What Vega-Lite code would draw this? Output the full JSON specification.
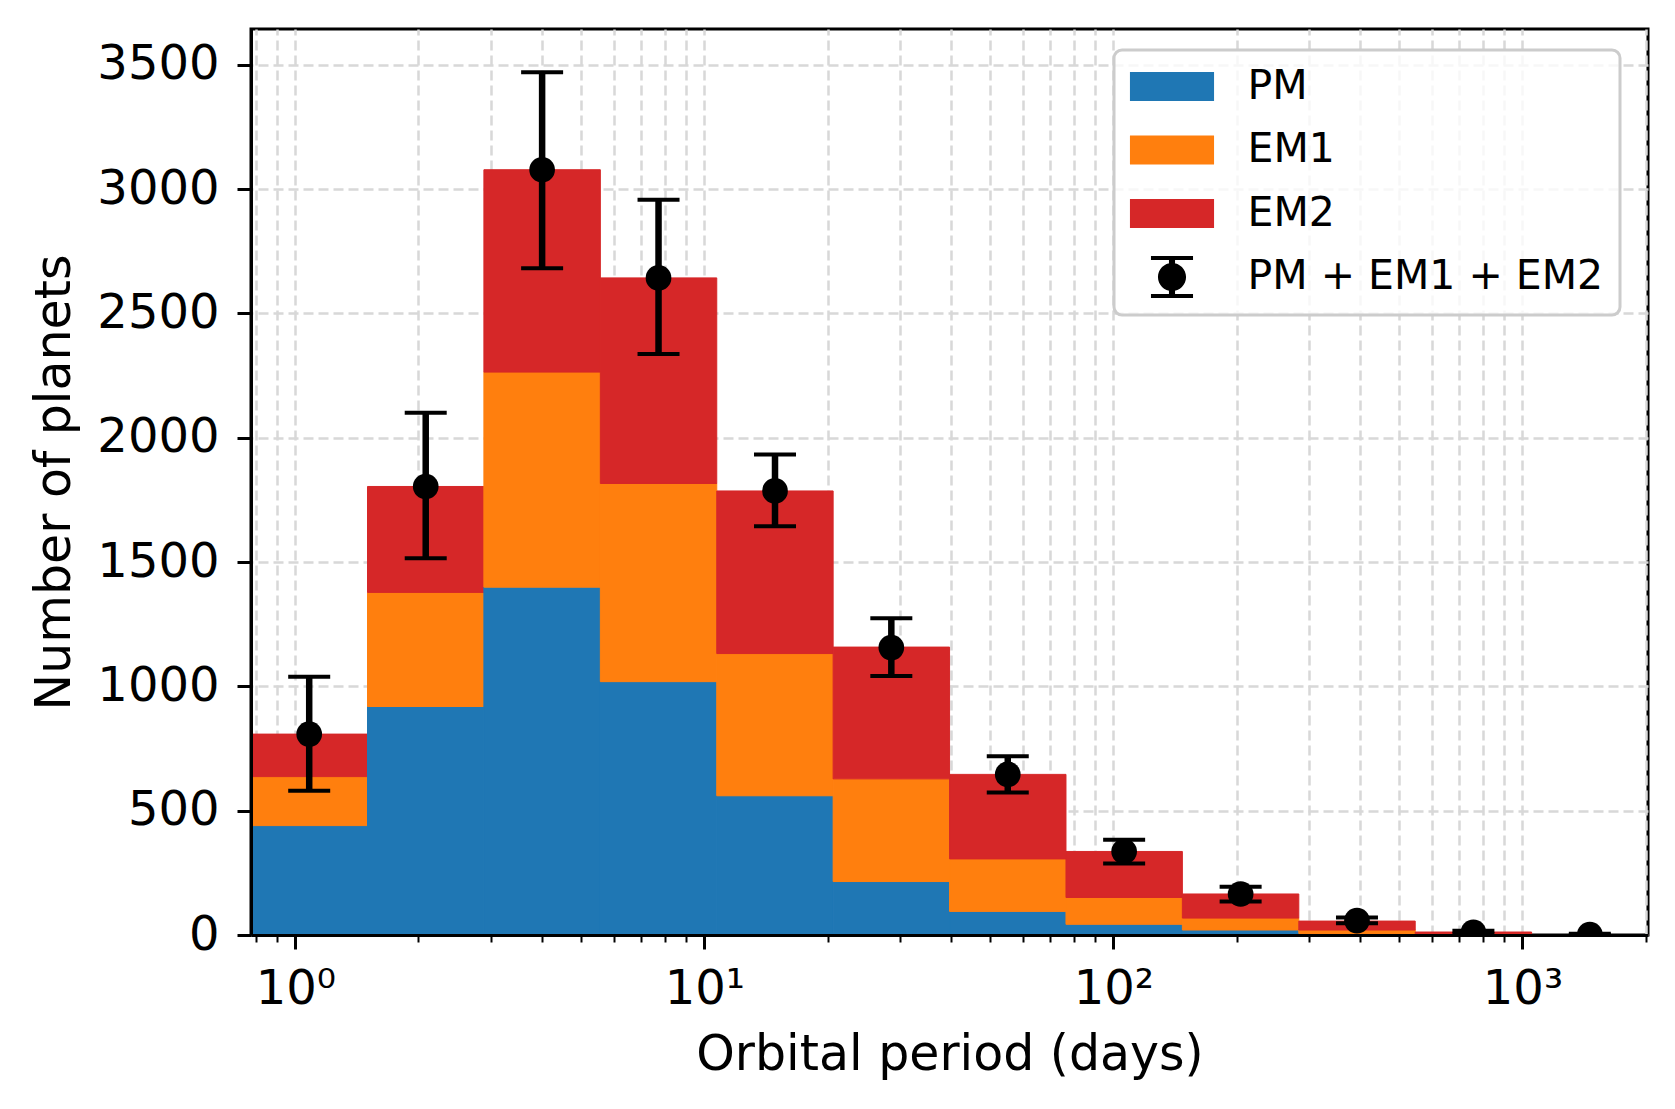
{
  "$schema": "https://vega.github.io/schema/vega-lite/v6.json",
  "width": 1397,
  "height": 906,
  "autosize": {"type": "none"},
  "padding": {"left": 251, "top": 29, "right": 27, "bottom": 174},
  "background": "white",
  "config": {
    "view": {"stroke": "black", "strokeWidth": 3},
    "font": "DejaVu Sans",
    "axis": {
      "labelFont": "DejaVu Sans",
      "titleFont": "DejaVu Sans",
      "labelColor": "black",
      "titleColor": "black",
      "titleFontWeight": "normal",
      "tickColor": "black",
      "domainColor": "black"
    },
    "legend": {
      "title": null,
      "orient": "none",
      "legendX": 863,
      "legendY": 21,
      "labelFont": "DejaVu Sans",
      "labelFontSize": 41,
      "labelColor": "black",
      "labelBaseline": "middle",
      "labelLimit": 0,
      "symbolSize": 841,
      "symbolStrokeWidth": 0,
      "symbolOpacity": 1,
      "symbolOffset": 21.5,
      "labelOffset": 55,
      "rowPadding": 21.5,
      "padding": 16,
      "strokeColor": "#cccccc",
      "strokeWidth": 3,
      "cornerRadius": 8,
      "fillColor": "rgba(255,255,255,0.8)"
    }
  },
  "datasets": {
    "bins": [
      {"lo": 0.779, "hi": 1.501, "series": "PM", "order": 1, "count": 440},
      {"lo": 0.779, "hi": 1.501, "series": "EM1", "order": 2, "count": 197},
      {"lo": 0.779, "hi": 1.501, "series": "EM2", "order": 3, "count": 171},
      {"lo": 1.501, "hi": 2.89, "series": "PM", "order": 1, "count": 919},
      {"lo": 1.501, "hi": 2.89, "series": "EM1", "order": 2, "count": 459},
      {"lo": 1.501, "hi": 2.89, "series": "EM2", "order": 3, "count": 426},
      {"lo": 2.89, "hi": 5.567, "series": "PM", "order": 1, "count": 1399},
      {"lo": 2.89, "hi": 5.567, "series": "EM1", "order": 2, "count": 865},
      {"lo": 2.89, "hi": 5.567, "series": "EM2", "order": 3, "count": 814},
      {"lo": 5.567, "hi": 10.72, "series": "PM", "order": 1, "count": 1019},
      {"lo": 5.567, "hi": 10.72, "series": "EM1", "order": 2, "count": 797},
      {"lo": 5.567, "hi": 10.72, "series": "EM2", "order": 3, "count": 827},
      {"lo": 10.72, "hi": 20.64, "series": "PM", "order": 1, "count": 560},
      {"lo": 10.72, "hi": 20.64, "series": "EM1", "order": 2, "count": 572},
      {"lo": 10.72, "hi": 20.64, "series": "EM2", "order": 3, "count": 654},
      {"lo": 20.64, "hi": 39.75, "series": "PM", "order": 1, "count": 215},
      {"lo": 20.64, "hi": 39.75, "series": "EM1", "order": 2, "count": 413},
      {"lo": 20.64, "hi": 39.75, "series": "EM2", "order": 3, "count": 530},
      {"lo": 39.75, "hi": 76.55, "series": "PM", "order": 1, "count": 95},
      {"lo": 39.75, "hi": 76.55, "series": "EM1", "order": 2, "count": 211},
      {"lo": 39.75, "hi": 76.55, "series": "EM2", "order": 3, "count": 340},
      {"lo": 76.55, "hi": 147.4, "series": "PM", "order": 1, "count": 43},
      {"lo": 76.55, "hi": 147.4, "series": "EM1", "order": 2, "count": 108},
      {"lo": 76.55, "hi": 147.4, "series": "EM2", "order": 3, "count": 185},
      {"lo": 147.4, "hi": 283.9, "series": "PM", "order": 1, "count": 20},
      {"lo": 147.4, "hi": 283.9, "series": "EM1", "order": 2, "count": 48},
      {"lo": 147.4, "hi": 283.9, "series": "EM2", "order": 3, "count": 97},
      {"lo": 283.9, "hi": 546.7, "series": "PM", "order": 1, "count": 6},
      {"lo": 283.9, "hi": 546.7, "series": "EM1", "order": 2, "count": 14},
      {"lo": 283.9, "hi": 546.7, "series": "EM2", "order": 3, "count": 36},
      {"lo": 546.7, "hi": 1052.7, "series": "PM", "order": 1, "count": 1},
      {"lo": 546.7, "hi": 1052.7, "series": "EM1", "order": 2, "count": 4},
      {"lo": 546.7, "hi": 1052.7, "series": "EM2", "order": 3, "count": 7},
      {"lo": 1052.7, "hi": 2027, "series": "PM", "order": 1, "count": 0},
      {"lo": 1052.7, "hi": 2027, "series": "EM1", "order": 2, "count": 0.5},
      {"lo": 1052.7, "hi": 2027, "series": "EM2", "order": 3, "count": 1}
    ],
    "totals": [
      {"center": 1.081, "total": 808, "elo": 580, "ehi": 1039},
      {"center": 2.083, "total": 1804, "elo": 1515, "ehi": 2101},
      {"center": 4.011, "total": 3078, "elo": 2682, "ehi": 3470},
      {"center": 7.724, "total": 2643, "elo": 2337, "ehi": 2957},
      {"center": 14.88, "total": 1786, "elo": 1644, "ehi": 1933},
      {"center": 28.64, "total": 1156, "elo": 1042, "ehi": 1274},
      {"center": 55.16, "total": 646, "elo": 573, "ehi": 719},
      {"center": 106.2, "total": 336, "elo": 288, "ehi": 383},
      {"center": 204.6, "total": 165, "elo": 135, "ehi": 194},
      {"center": 393.9, "total": 58, "elo": 47, "ehi": 70},
      {"center": 758.6, "total": 11, "elo": 4, "ehi": 17},
      {"center": 1461, "total": 2, "elo": 0, "ehi": 5}
    ]
  },
  "layer": [
    {
      "data": {"name": "bins"},
      "transform": [
        {"stack": "count", "groupby": ["lo"], "sort": [{"field": "order", "order": "ascending"}], "as": ["y0", "y1"]}
      ],
      "mark": {"type": "bar", "strokeWidth": 1, "opacity": 1},
      "encoding": {
        "x": {
          "field": "lo", "type": "quantitative",
          "scale": {"type": "log", "domain": [0.779, 2027], "nice": false},
          "axis": {
            "orient": "top", "grid": true, "ticks": false, "labels": false, "domain": false, "title": null,
            "values": [0.8, 0.9, 1, 2, 3, 4, 5, 6, 7, 8, 9, 10, 20, 30, 40, 50, 60, 70, 80, 90, 100, 200, 300, 400, 500, 600, 700, 800, 900, 1000, 2000],
            "gridColor": "#d8d8d8", "gridDash": [10, 5], "gridWidth": 2.5, "zindex": 0
          }
        },
        "x2": {"field": "hi"},
        "y": {
          "field": "y1", "type": "quantitative",
          "scale": {"domain": [0, 3644], "nice": false},
          "axis": {
            "orient": "right", "grid": true, "ticks": false, "labels": false, "domain": false, "title": null,
            "values": [0, 500, 1000, 1500, 2000, 2500, 3000, 3500],
            "gridColor": "#d8d8d8", "gridDash": [10, 5], "gridWidth": 2.5, "zindex": 0
          }
        },
        "y2": {"field": "y0"},
        "stroke": {
          "field": "series", "type": "nominal",
          "scale": {"domain": ["PM", "EM1", "EM2"], "range": ["#1f77b4", "#ff7f0e", "#d62728"]},
          "legend": null
        },
        "color": {
          "field": "series", "type": "nominal",
          "scale": {"domain": ["PM", "EM1", "EM2", "PM + EM1 + EM2"], "range": ["#1f77b4", "#ff7f0e", "#d62728", "#000000"]}
        }
      }
    },
    {
      "data": {"name": "totals"},
      "mark": {"type": "rule", "strokeWidth": 6.5, "color": "black", "clip": true},
      "encoding": {
        "x": {
          "field": "center", "type": "quantitative",
          "axis": {
            "orient": "bottom", "grid": false, "zindex": 1,
            "values": [0.8, 0.9, 1, 2, 3, 4, 5, 6, 7, 8, 9, 10, 20, 30, 40, 50, 60, 70, 80, 90, 100, 200, 300, 400, 500, 600, 700, 800, 900, 1000, 2000],
            "labelExpr": "datum.value == 1 ? '10⁰' : datum.value == 10 ? '10¹' : datum.value == 100 ? '10²' : datum.value == 1000 ? '10³' : ''",
            "labelOverlap": false, "labelFlush": false, "labelBound": false,
            "labelFontSize": 48, "labelPadding": 16,
            "tickSize": {"condition": {"test": "datum.value == 1 || datum.value == 10 || datum.value == 100 || datum.value == 1000", "value": 14}, "value": 7},
            "tickWidth": {"condition": {"test": "datum.value == 1 || datum.value == 10 || datum.value == 100 || datum.value == 1000", "value": 3}, "value": 2},
            "domain": true, "domainWidth": 3,
            "title": "Orbital period (days)", "titleFontSize": 49, "titlePadding": 17
          }
        },
        "y": {
          "field": "elo", "type": "quantitative",
          "axis": {
            "orient": "left", "grid": false, "zindex": 1,
            "values": [0, 500, 1000, 1500, 2000, 2500, 3000, 3500],
            "format": "d",
            "labelFontSize": 48, "labelPadding": 18,
            "tickSize": 14, "tickWidth": 3,
            "domain": true, "domainWidth": 3,
            "title": "Number of planets", "titleFontSize": 49, "titlePadding": 17
          }
        },
        "y2": {"field": "ehi"}
      }
    },
    {
      "data": {"name": "totals"},
      "mark": {"type": "tick", "orient": "horizontal", "size": 42, "thickness": 4, "color": "black", "opacity": 1, "clip": true},
      "encoding": {
        "x": {"field": "center", "type": "quantitative", "axis": null},
        "y": {"field": "elo", "type": "quantitative", "axis": null}
      }
    },
    {
      "data": {"name": "totals"},
      "mark": {"type": "tick", "orient": "horizontal", "size": 42, "thickness": 4, "color": "black", "opacity": 1, "clip": true},
      "encoding": {
        "x": {"field": "center", "type": "quantitative", "axis": null},
        "y": {"field": "ehi", "type": "quantitative", "axis": null}
      }
    },
    {
      "data": {"name": "totals"},
      "mark": {"type": "point", "filled": true, "size": 660, "opacity": 1, "strokeWidth": 0, "color": "black", "clip": true},
      "encoding": {
        "x": {"field": "center", "type": "quantitative", "axis": null},
        "y": {"field": "total", "type": "quantitative", "axis": null}
      }
    },
    {
      "data": {"name": "totals"},
      "mark": {"type": "point", "filled": true, "size": 841, "opacity": 0, "strokeWidth": 0, "clip": true},
      "encoding": {
        "x": {"field": "center", "type": "quantitative", "axis": null},
        "y": {"field": "total", "type": "quantitative", "axis": null},
        "color": {"datum": "PM + EM1 + EM2", "type": "nominal"},
        "shape": {
          "datum": "PM + EM1 + EM2", "type": "nominal",
          "scale": {
            "domain": ["PM", "EM1", "EM2", "PM + EM1 + EM2"],
            "range": [
              "M-2.9,-1H2.9V1H-2.9Z",
              "M-2.9,-1H2.9V1H-2.9Z",
              "M-2.9,-1H2.9V1H-2.9Z",
              "M-0.97,0A0.97,0.97,0,1,1,0.97,0A0.97,0.97,0,1,1,-0.97,0ZM-1.45,-1.45H1.45V-1.17H-1.45ZM-0.21,-1.45H0.21V1.45H-0.21ZM-1.45,1.17H1.45V1.45H-1.45Z"
            ]
          }
        }
      }
    }
  ],
  "resolve": {"axis": {"x": "independent", "y": "independent"}}
}
